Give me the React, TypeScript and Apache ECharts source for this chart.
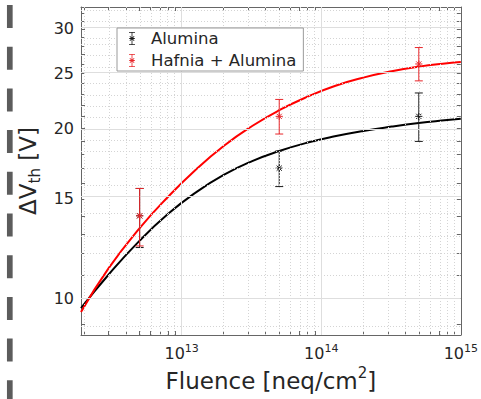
import React, { useEffect, useRef } from "react";
import * as echarts from "echarts";

// Axis ranges (fluence in neq/cm², threshold shift in V)
const fluenceRange = [1.9e12, 1e15];
const voltageRange = [8.61, 32.8];

// Tick positions
const fluenceTicks = [1e13, 1e14, 1e15];
const fluenceMinorTicks = [
  2e12, 3e12, 4e12, 5e12, 6e12, 7e12, 8e12, 9e12,
  2e13, 3e13, 4e13, 5e13, 6e13, 7e13, 8e13, 9e13,
  2e14, 3e14, 4e14, 5e14, 6e14, 7e14, 8e14, 9e14,
];
const voltageTicks = [10, 15, 20, 25, 30];
const voltageMinorTicks = [9, 11, 12, 13, 14, 16, 17, 18, 19, 21, 22, 23, 24, 26, 27, 28, 29, 31, 32];

// Measurements
const measuredFluence = [5e12, 5e13, 5e14];
const aluminaValue = [14.0, 17.0, 21.0];
const aluminaLow = [12.3, 15.77, 18.96];
const aluminaHigh = [15.65, 18.23, 23.1];
const hafniaValue = [14.0, 21.0, 26.0];
const hafniaLow = [12.38, 19.54, 24.27];
const hafniaHigh = [15.65, 22.5, 27.8];

// Fitted curves
const fitFluence = [1.9e12, 3e12, 5e12, 8e12, 1.25e13, 2e13, 3.2e13, 5e13, 8e13, 1.25e14, 2e14, 3.2e14, 5e14, 8e14, 1e15];
const aluminaFit = [9.61, 11.02, 12.65, 14.11, 15.37, 16.54, 17.5, 18.23, 18.87, 19.36, 19.79, 20.14, 20.43, 20.68, 20.8];
const hafniaFit = [9.46, 11.31, 13.31, 15.13, 16.86, 18.61, 20.19, 21.53, 22.76, 23.77, 24.59, 25.24, 25.72, 26.08, 26.22];

const FONT = "DejaVu Sans";
const TEXT = "#262626";
const AXIS = "#666666";

const lg = Math.log10;

// error bar with caps and an asterisk marker, drawn as filled slivers
const errorBarIcon =
  "path://M10 0H70V8H10Z M36 0H44V130H36Z M10 122H70V130H10Z M12 61H68V69H12Z M15 46L21 40L65 84L59 90Z M59 40L65 46L21 90L15 84Z";

function renderErrorBar(params: any, api: any) {
  const x = api.value(0);
  const c = api.coord([x, api.value(1)]);
  const lo = api.coord([x, api.value(2)]);
  const hi = api.coord([x, api.value(3)]);
  const color = api.visual("color");
  const style = { stroke: color, lineWidth: 1, fill: null };
  const cap = 4;
  const s = 3.6;
  const d = s * 0.72;
  const line = (x1: number, y1: number, x2: number, y2: number) => ({
    type: "line",
    shape: { x1, y1, x2, y2 },
    style,
  });
  return {
    type: "group",
    children: [
      line(c[0], lo[1], c[0], hi[1]),
      line(c[0] - cap, lo[1], c[0] + cap, lo[1]),
      line(c[0] - cap, hi[1], c[0] + cap, hi[1]),
      line(c[0] - s, c[1], c[0] + s, c[1]),
      line(c[0], c[1] - s, c[0], c[1] + s),
      line(c[0] - d, c[1] - d, c[0] + d, c[1] + d),
      line(c[0] - d, c[1] + d, c[0] + d, c[1] - d),
    ],
  };
}

function buildOption() {
  const xMin = lg(fluenceRange[0]);
  const xMax = lg(fluenceRange[1]);
  const yMin = lg(voltageRange[0]);
  const yMax = lg(voltageRange[1]);

  const xAllTicks = [...fluenceMinorTicks, ...fluenceTicks].map(lg);
  const yAllTicks = [...voltageMinorTicks, ...voltageTicks].map(lg);

  const xAxisBase = (position: "bottom" | "top", labels: boolean) => ({
    type: "value",
    position,
    min: xMin,
    max: xMax,
    axisLine: { show: true, onZero: false, lineStyle: { color: AXIS, width: 1 } },
    axisTick: {
      show: true,
      inside: true,
      length: 4,
      customValues: xAllTicks,
      lineStyle: { color: AXIS, width: 1 },
    },
    splitLine: { show: false },
    axisLabel: labels
      ? {
          show: true,
          customValues: fluenceTicks.map(lg),
          margin: 8,
          formatter: (v: number) => `{b|10}{s|${Math.round(v)}}`,
          rich: {
            b: { fontFamily: FONT, fontSize: 16, color: TEXT, lineHeight: 20 },
            s: { fontFamily: FONT, fontSize: 11, color: TEXT, lineHeight: 20, verticalAlign: "top" },
          },
        }
      : { show: false },
  });

  const yAxisBase = (position: "left" | "right", labels: boolean) => ({
    type: "value",
    position,
    min: yMin,
    max: yMax,
    axisLine: { show: true, onZero: false, lineStyle: { color: AXIS, width: 1 } },
    axisTick: {
      show: true,
      inside: true,
      length: 4,
      customValues: yAllTicks,
      lineStyle: { color: AXIS, width: 1 },
    },
    splitLine: { show: false },
    axisLabel: labels
      ? {
          show: true,
          customValues: voltageTicks.map(lg),
          margin: 7,
          fontFamily: FONT,
          fontSize: 16,
          color: TEXT,
          formatter: (v: number) => String(Math.round(Math.pow(10, v))),
        }
      : { show: false },
  });

  const gridSeries = (values: number[], axis: "xAxis" | "yAxis", lineStyle: any, id: string) => ({
    type: "line",
    id,
    data: [],
    z: 1,
    silent: true,
    markLine: {
      silent: true,
      symbol: "none",
      label: { show: false },
      lineStyle,
      emphasis: { disabled: true },
      data: values.map((v) => ({ [axis]: lg(v) })),
    },
  });

  const majorGrid = { color: "#dedede", width: 1, type: "solid" };
  const minorGrid = { color: "#d4d4d4", width: 1, type: [1, 2] };

  const fitLine = (name: string, color: string, values: number[]) => ({
    type: "line",
    name,
    z: 3,
    smooth: 0.5,
    symbol: "none",
    lineStyle: { color, width: 2 },
    itemStyle: { color },
    data: fitFluence.map((f, i) => [lg(f), lg(values[i])]),
  });

  return {
    animation: false,
    backgroundColor: "#ffffff",
    textStyle: { fontFamily: FONT },
    grid: { left: 81, right: 14, top: 7, bottom: 64, containLabel: false },
    xAxis: [
      {
        ...xAxisBase("bottom", true),
        name: "{t|Fluence [neq/cm}{u|2}{t|]}",
        nameLocation: "middle",
        nameGap: 29,
        nameTextStyle: {
          rich: {
            t: { fontFamily: FONT, fontSize: 23, color: TEXT, lineHeight: 30 },
            u: { fontFamily: FONT, fontSize: 15, color: TEXT, lineHeight: 30, verticalAlign: "top" },
          },
        },
      },
      xAxisBase("top", false),
    ],
    yAxis: [
      {
        ...yAxisBase("left", true),
        name: "{t|ΔV}{d|th}{t| [V]}",
        nameLocation: "middle",
        nameRotate: 90,
        nameGap: 34,
        nameTextStyle: {
          rich: {
            t: { fontFamily: FONT, fontSize: 23, color: TEXT, lineHeight: 30 },
            d: { fontFamily: FONT, fontSize: 15, color: TEXT, lineHeight: 30, verticalAlign: "bottom" },
          },
        },
      },
      yAxisBase("right", false),
    ],
    legend: {
      orient: "vertical",
      left: 117,
      top: 28,
      data: [
        { name: "Alumina", icon: errorBarIcon },
        { name: "Hafnia + Alumina", icon: errorBarIcon },
      ],
      itemWidth: 8,
      itemHeight: 13,
      itemGap: 5,
      padding: [2, 7, 2, 12],
      backgroundColor: "#ffffff",
      borderColor: "#9a9a9a",
      borderWidth: 1,
      borderRadius: 0,
      selectedMode: false,
      textStyle: { fontFamily: FONT, fontSize: 16.5, color: TEXT, padding: [0, 0, 0, 10] },
      z: 10,
    },
    graphic: [
      {
        type: "line",
        shape: { x1: 9.8, y1: 5, x2: 9.8, y2: 399 },
        style: { stroke: "#5c5c5c", lineWidth: 5.7, lineDash: [23, 18.7] },
        silent: true,
      },
    ],
    series: [
      gridSeries(fluenceMinorTicks, "xAxis", minorGrid, "gx-minor"),
      gridSeries(voltageMinorTicks, "yAxis", minorGrid, "gy-minor"),
      gridSeries(fluenceTicks.slice(0, 2), "xAxis", majorGrid, "gx-major"),
      gridSeries(voltageTicks, "yAxis", majorGrid, "gy-major"),
      fitLine("Alumina fit", "#000000", aluminaFit),
      fitLine("Hafnia + Alumina fit", "#ff0000", hafniaFit),
      {
        type: "custom",
        name: "Alumina",
        z: 4,
        itemStyle: { color: "#1a1a1a" },
        renderItem: renderErrorBar,
        data: measuredFluence.map((f, i) => [lg(f), lg(aluminaValue[i]), lg(aluminaLow[i]), lg(aluminaHigh[i])]),
      },
      {
        type: "custom",
        name: "Hafnia + Alumina",
        z: 5,
        itemStyle: { color: "#e8262a" },
        renderItem: renderErrorBar,
        data: measuredFluence.map((f, i) => [lg(f), lg(hafniaValue[i]), lg(hafniaLow[i]), lg(hafniaHigh[i])]),
      },
    ],
  };
}

export default function App() {
  const ref = useRef<HTMLDivElement>(null);
  useEffect(() => {
    if (!ref.current) return;
    const chart = echarts.init(ref.current, null, { renderer: "svg" });
    chart.setOption(buildOption() as any);
    return () => chart.dispose();
  }, []);
  return (
    <div
      ref={ref}
      style={{ position: "fixed", left: 0, top: 0, width: 481, height: 399, background: "#ffffff" }}
    />
  );
}
